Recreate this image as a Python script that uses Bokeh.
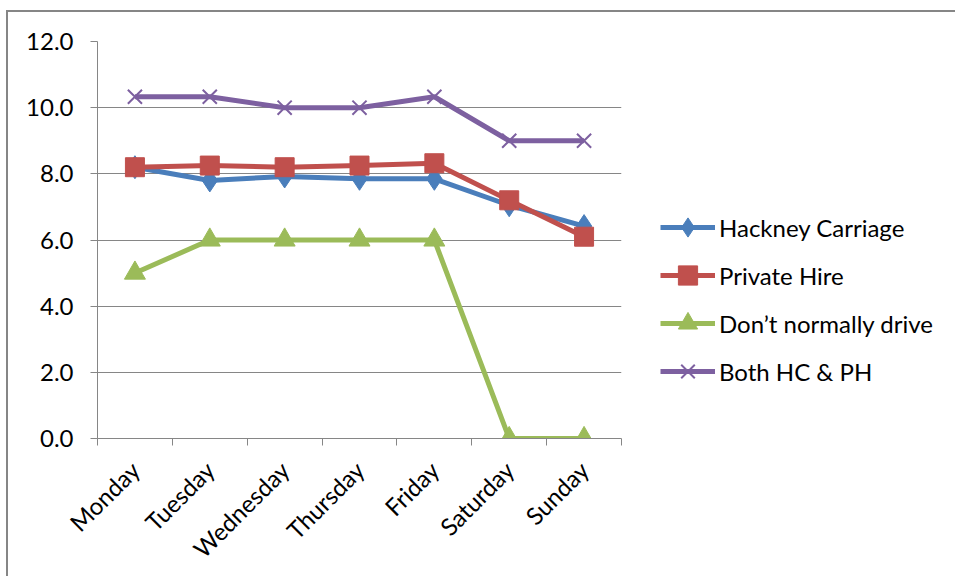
import numpy as np
from bokeh.plotting import figure
from bokeh.models import FixedTicker, Legend, LegendItem, Range1d
from bokeh.embed import file_html
from bokeh.resources import INLINE

days = ["Monday", "Tuesday", "Wednesday", "Thursday", "Friday", "Saturday", "Sunday"]
hackney = [8.2, 7.8, 7.92, 7.85, 7.85, 7.05, 6.42]
private = [8.2, 8.25, 8.2, 8.25, 8.32, 7.2, 6.1]
dont_drive = [5.0, 6.0, 6.0, 6.0, 6.0, 0.0, 0.0]
both = [10.33, 10.33, 10.0, 10.0, 10.33, 9.0, 9.0]
y_ticks = [0, 2, 4, 6, 8, 10, 12]

x = np.arange(len(days)) + 0.5

FONT = "Lato"
GRAY = "#868686"
FS = "24px"

p = figure(frame_width=524, frame_height=397, output_backend="svg", toolbar_location=None,
           x_range=Range1d(0, len(days)), y_range=Range1d(0, 12),
           min_border_left=89, min_border_right=328, min_border_top=29, min_border_bottom=136,
           margin=(10, 0, 0, 6),
           styles={"border-top": "2px solid #868686", "border-left": "2px solid #868686"})
p.outline_line_color = None
p.background_fill_color = "white"
p.border_fill_color = "white"

# grid
p.xgrid.grid_line_color = None
p.ygrid.grid_line_color = GRAY
p.ygrid.grid_line_width = 1

# y axis
p.yaxis.ticker = FixedTicker(ticks=y_ticks)
p.yaxis.major_label_overrides = {t: f"{t:.1f}" for t in y_ticks}
p.yaxis.axis_line_color = GRAY
p.yaxis.major_tick_line_color = GRAY
p.yaxis.major_tick_out = 7
p.yaxis.major_tick_in = 0
p.yaxis.minor_tick_line_color = None
p.yaxis.major_label_standoff = 17
p.yaxis.major_label_text_font = FONT
p.yaxis.major_label_text_font_size = FS
p.yaxis.major_label_text_color = "black"

# x axis
p.xaxis.ticker = FixedTicker(ticks=list(x), minor_ticks=list(range(len(days) + 1)))
p.xaxis.major_label_overrides = {float(xx): d for xx, d in zip(x, days)}
p.xaxis.axis_line_color = GRAY
p.xaxis.major_tick_line_color = None
p.xaxis.major_tick_out = 0
p.xaxis.major_tick_in = 0
p.xaxis.minor_tick_line_color = GRAY
p.xaxis.minor_tick_out = 7
p.xaxis.minor_tick_in = 0
p.xaxis.major_label_orientation = np.pi / 4
p.xaxis.major_label_standoff = 20
p.xaxis.major_label_text_font = FONT
p.xaxis.major_label_text_font_size = FS
p.xaxis.major_label_text_color = "black"

series = [
    ("Hackney Carriage", hackney, "#4A7EBB", "diamond", 23),
    ("Private Hire", private, "#C0504D", "square", 19),
    ("Don\u2019t normally drive", dont_drive, "#9BBB59", "triangle", 21),
    ("Both HC & PH", both, "#7D60A0", "x", 20),
]

items = []
for name, vals, color, marker, size in series:
    r1 = p.line(x, vals, line_color=color, line_width=5)
    if marker == "x":
        r2 = p.scatter(x, vals, marker=marker, size=size, line_color=color, line_width=2)
    else:
        r2 = p.scatter(x, vals, marker=marker, size=size, fill_color=color, line_color=color)
    items.append(LegendItem(label=name, renderers=[r1, r2]))

legend = Legend(items=items, location=(39, 43), orientation="vertical")
legend.label_text_font = FONT
legend.label_text_font_size = FS
legend.label_text_color = "black"
legend.glyph_width = 55
legend.glyph_height = 48
legend.label_height = 48
legend.label_standoff = 4
legend.spacing = 0
legend.padding = 0
legend.margin = 0
legend.border_line_color = None
legend.background_fill_alpha = 0
p.add_layout(legend, "right")

open("out.html", "w").write(file_html(p, INLINE))
